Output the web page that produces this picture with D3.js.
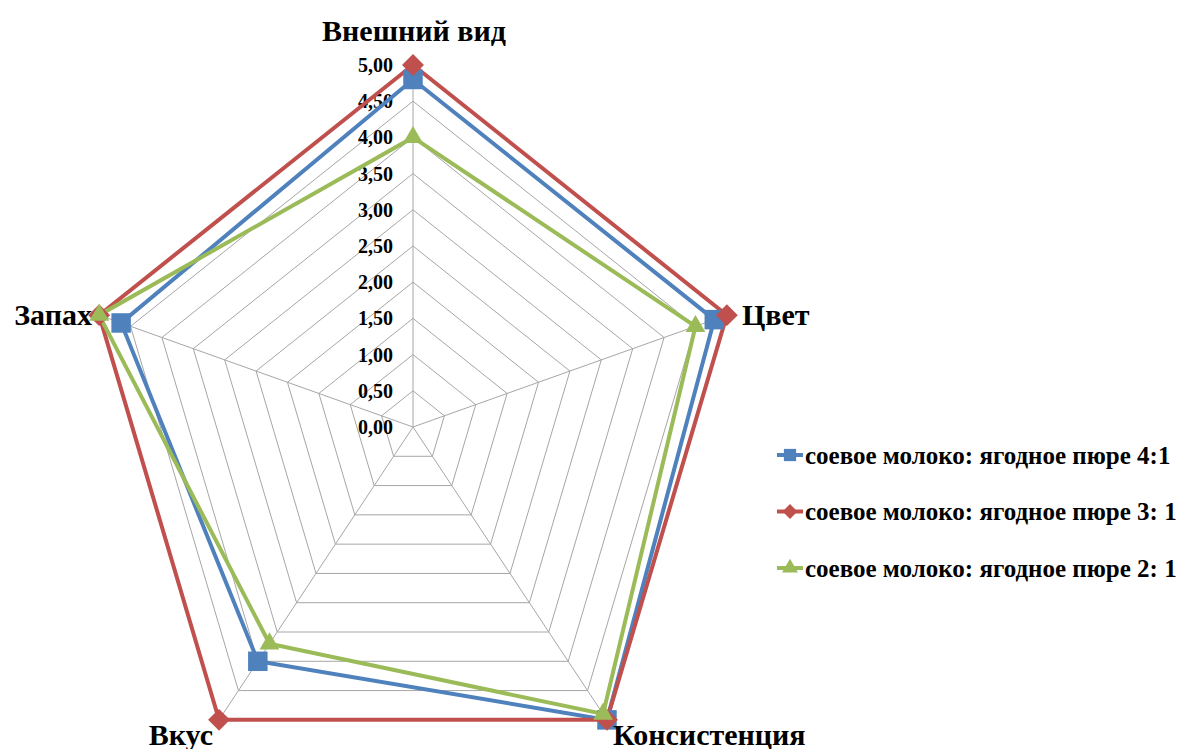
<!DOCTYPE html>
<html>
<head>
<meta charset="utf-8">
<script src="https://cdn.jsdelivr.net/npm/d3@7"></script>
<style>
  body { margin: 0; background: #fff; }
  text { font-family: "Liberation Serif", "Times New Roman", serif; font-weight: bold; }
</style>
</head>
<body>
<div id="chart"></div>
<script>
// axes and series values
var axes = ["Внешний вид", "Цвет", "Консистенция", "Вкус", "Запах"];
var ticks = [0, 0.5, 1, 1.5, 2, 2.5, 3, 3.5, 4, 4.5, 5];
var names = [
  "соевое молоко: ягодное пюре 4:1",
  "соевое молоко: ягодное пюре 3: 1",
  "соевое молоко: ягодное пюре 2: 1"
];
var blue = [4.8, 4.8, 5.0, 4.0, 4.65];
var red = [5.0, 5.0, 5.0, 5.0, 5.0];
var green = [4.0, 4.5, 4.9, 3.7, 5.0];
var colors = ["#4F81BD", "#C0504D", "#9BBB59"];

var width = 1186, height = 749;
var cx = 413, cy = 427;

var svg = d3.select("#chart").append("svg")
  .attr("width", width)
  .attr("height", height);

// plot area is a bit squeezed horizontally
var rx = d3.scaleLinear().domain([0, 5]).range([0, 330]);
var ry = d3.scaleLinear().domain([0, 5]).range([0, 362]);
var angle = d3.scaleLinear().domain([0, axes.length]).range([0, 2 * Math.PI]);

function pt(i, v) {
  var a = angle(i);
  return [cx + rx(v) * Math.sin(a), cy - ry(v) * Math.cos(a)];
}

// marker shapes: square, diamond (rotated square), triangle
function marker(sel, s, big) {
  if (s == 0) {
    sel.attr("d", d3.symbol().type(d3.symbolSquare).size(big ? 380 : 150));
  } else if (s == 1) {
    sel.attr("d", d3.symbol().type(d3.symbolSquare).size(big ? 240 : 110))
      .attr("transform", function() { return d3.select(this).attr("transform") + " rotate(45)"; });
  } else {
    sel.attr("d", d3.symbol().type(d3.symbolTriangle).size(big ? 170 : 110));
  }
}

var grid = svg.append("g").attr("class", "grid");

// rings
ticks.slice(1).forEach(function(t) {
  grid.append("polygon")
    .attr("points", axes.map(function(d, i) { return pt(i, t).join(","); }).join(" "))
    .attr("fill", "none")
    .attr("stroke", "#a6a6a6")
    .attr("stroke-width", 1);
});

// spokes
axes.forEach(function(d, i) {
  var p = pt(i, 5);
  grid.append("line")
    .attr("x1", cx).attr("y1", cy)
    .attr("x2", p[0]).attr("y2", p[1])
    .attr("stroke", "#a6a6a6")
    .attr("stroke-width", 1);
});

// tick labels
var fmt = function(v) { return d3.format(".2f")(v).replace(".", ","); };
svg.append("g").selectAll("text")
  .data(ticks)
  .enter()
  .append("text")
  .attr("x", cx - 20)
  .attr("y", function(d) { return cy - ry(d); })
  .attr("dy", "0.35em")
  .attr("text-anchor", "end")
  .style("font-size", "20px")
  .text(fmt);

// series
var series = [blue, red, green];
var line = d3.line().curve(d3.curveLinearClosed);

series.forEach(function(vals, s) {
  var pts = vals.map(function(v, i) { return pt(i, v); });
  svg.append("path")
    .attr("d", line(pts))
    .attr("fill", "none")
    .attr("stroke", colors[s])
    .attr("stroke-width", 4)
    .attr("stroke-linejoin", "miter");
});

series.forEach(function(vals, s) {
  svg.append("g").selectAll("path")
    .data(vals)
    .enter()
    .append("path")
    .attr("transform", function(v, i) { var p = pt(i, v); return "translate(" + p[0] + "," + p[1] + ")"; })
    .attr("fill", colors[s])
    .call(marker, s, true);
});

// axis labels
var labelPos = [
  {x: 414, y: 30, anchor: "middle"},
  {x: 742, y: 314, anchor: "start"},
  {x: 613, y: 734, anchor: "start"},
  {x: 213, y: 734, anchor: "end"},
  {x: 92, y: 314, anchor: "end"}
];
svg.append("g").selectAll("text")
  .data(axes)
  .enter()
  .append("text")
  .attr("x", function(d, i) { return labelPos[i].x; })
  .attr("y", function(d, i) { return labelPos[i].y; })
  .attr("dy", "0.35em")
  .attr("text-anchor", function(d, i) { return labelPos[i].anchor; })
  .style("font-size", "30px")
  .text(function(d) { return d; });

// legend
var legend = svg.append("g").attr("transform", "translate(777,455)");
names.forEach(function(n, s) {
  var g = legend.append("g").attr("transform", "translate(0," + (s * 56.5) + ")");
  g.append("line")
    .attr("x1", 0).attr("x2", 26)
    .attr("stroke", colors[s])
    .attr("stroke-width", 4);
  g.append("path")
    .attr("transform", "translate(13,0)")
    .attr("fill", colors[s])
    .call(marker, s, false);
  g.append("text")
    .attr("x", 28)
    .attr("dy", "0.35em")
    .style("font-size", "25px")
    .text(n);
});
</script>
</body>
</html>
